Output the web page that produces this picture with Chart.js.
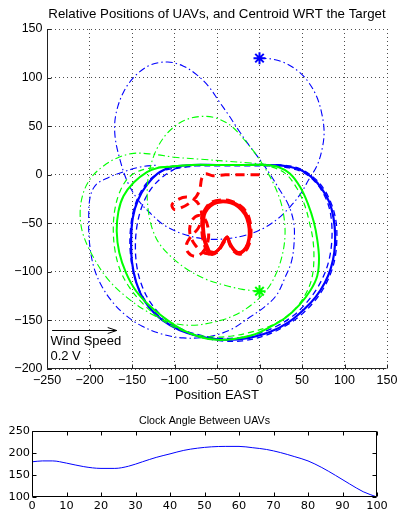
<!DOCTYPE html>
<html>
<head>
<meta charset="utf-8">
<script src="https://cdn.jsdelivr.net/npm/chart.js@4/dist/chart.umd.min.js"></script>
<style>
  html, body { margin: 0; padding: 0; background: #fff; }
  #wrap { position: relative; width: 402px; height: 515px; overflow: hidden; }
  canvas { position: absolute; left: 0; }
  #main { top: 0; }
  #clock { top: 405px; }
</style>
</head>
<body>
<div id="wrap">
  <canvas id="main" width="402" height="405"></canvas>
  <canvas id="clock" width="402" height="110"></canvas>
</div>
<script>
// ---------- tick labels ----------
const eastTicks = [-250, -200, -150, -100, -50, 0, 50, 100, 150];
const northTicks = [-200, -150, -100, -50, 0, 50, 100, 150];
const clockTimeTicks = [0, 10, 20, 30, 40, 50, 60, 70, 80, 90, 100];
const clockAngleTicks = [100, 150, 200, 250];

// ---------- UAV 1 (blue) ----------
// transit from the start point into the loiter orbit
const blueApproachX = [0, 15, 30, 45, 57, 67, 73, 76, 74, 68, 58, 48, 36, 22, 5, -15, -40, -65, -90, -112, -128, -142, -155, -164, -170, -169, -160, -146, -128, -108, -90, -74, -60, -48, -36, -24, -12, 0, 12, 24, 34, 40, 41, 38, 30, 20, 6, -12, -35, -62, -90, -115, -138, -157, -173, -186, -195, -200, -201, -199, -192, -178, -160, -140, -120];
const blueApproachY = [120, 119, 115, 107, 96, 81, 64, 45, 28, 10, -5, -20, -33, -45, -55, -62, -66, -66, -61, -52, -40, -27, -8, 15, 40, 62, 85, 102, 113, 116, 112, 103, 91, 76, 61, 45, 30, 16, 1, -16, -31, -48, -65, -88, -106, -124, -136, -147, -160, -167, -168, -164, -156, -145, -131, -114, -95, -70, -45, -22, -10, -3, 3, 8, 10];
// settling laps
const blueLapAX = [-110, -85, -55, -25, 5, 28, 48, 64, 76, 85, 90, 91, 89, 84, 76, 64, 48, 28, 5, -20, -45, -70, -92, -112, -128, -140, -148, -152, -152, -148, -140, -128, -112];
const blueLapAY = [5, 9, 10, 10, 10, 10, 6, -3, -15, -31, -48, -66, -85, -101, -116, -131, -145, -157, -166, -171, -171, -167, -160, -150, -137, -121, -102, -80, -58, -36, -18, -4, 5];
const blueLapBX = [-100, -75, -45, -15, 15, 35, 52, 65, 75, 82, 85, 85, 82, 76, 67, 55, 40, 20, -3, -28, -52, -75, -96, -114, -128, -138, -144, -146, -144, -138, -128, -115, -100];
const blueLapBY = [6, 9, 9, 9, 9, 7, 2, -7, -19, -34, -51, -69, -87, -103, -118, -132, -145, -156, -164, -168, -168, -164, -157, -146, -132, -115, -96, -74, -52, -32, -15, -3, 6];
// steady orbit
const blueOrbitX = [-105, -80, -50, -20, 10, 30, 48, 62, 73, 82, 87, 89, 88, 84, 77, 66, 52, 34, 12, -12, -38, -62, -85, -105, -122, -136, -145, -150, -151, -149, -143, -133, -120, -105];
const blueOrbitY = [8, 10, 10, 10, 10, 9, 5, -3, -14, -28, -44, -62, -80, -96, -111, -126, -139, -152, -162, -168, -170, -168, -163, -155, -144, -129, -111, -90, -66, -44, -26, -11, 1, 8];

// ---------- UAV 2 (green) ----------
const greenApproachX = [0, -20, -40, -62, -84, -102, -117, -126, -131, -132, -129, -120, -106, -88, -68, -50, -33, -18, -5, 7, 17, 25, 29, 30, 27, 20, 9, -8, -30, -55, -80, -105, -130, -155, -178, -196, -208, -211, -207, -198, -185, -168, -148, -125, -100, -70, -40, -10, 15];
const greenApproachY = [-120, -118, -114, -108, -98, -86, -72, -56, -36, -14, 6, 28, 45, 56, 60, 58, 50, 36, 22, 6, -10, -28, -45, -63, -82, -101, -118, -133, -145, -152, -155, -152, -142, -127, -108, -84, -60, -38, -18, -3, 8, 17, 22, 21, 18, 16, 14, 12, 10];
const greenLapX = [-115, -85, -55, -25, 0, 18, 32, 44, 53, 59, 63, 64, 62, 56, 45, 30, 12, -10, -32, -55, -78, -100, -120, -138, -153, -164, -170, -172, -170, -164, -154, -138, -115];
const greenLapY = [8, 10, 10, 10, 10, 7, 0, -14, -31, -50, -68, -87, -105, -120, -135, -147, -156, -162, -166, -167, -164, -157, -146, -132, -116, -98, -78, -56, -35, -17, -3, 5, 8];
const greenOrbitX = [-110, -80, -50, -20, 5, 22, 36, 48, 57, 64, 68, 70, 68, 60, 47, 31, 12, -8, -30, -50, -70, -90, -108, -128, -145, -157, -165, -168, -166, -160, -148, -132, -120, -110];
const greenOrbitY = [8, 10, 10, 10, 10, 8, 1, -13, -30, -49, -67, -86, -104, -119, -134, -147, -157, -165, -169, -170, -167, -160, -150, -136, -120, -101, -80, -58, -38, -22, -8, 3, 7, 8];

// ---------- centroid (red) ----------
const centroidStartX = [0, -20, -40, -55, -64, -68, -70, -74, -82, -92, -100, -103, -97, -86, -76, -70, -68, -72, -80, -86, -84, -76, -67, -61, -60, -64, -72, -80, -82, -76, -66, -58];
const centroidStartY = [0, 0, 0, -1, 1, -4, -14, -22, -29, -34, -36, -31, -26, -23, -26, -33, -44, -55, -63, -72, -80, -84, -80, -70, -58, -46, -42, -48, -60, -72, -80, -82];
const centroidLoopAX = [-60, -65, -67, -66, -62, -55, -45, -34, -24, -16, -12, -11, -13, -18, -24, -30, -35, -38, -42, -48, -54, -60];
const centroidLoopAY = [-80, -68, -54, -42, -34, -29, -27, -28, -32, -40, -50, -60, -70, -78, -81, -78, -71, -64, -69, -77, -81, -80];
const centroidLoopBX = [-59, -64, -66, -65, -61, -54, -45, -34, -25, -17, -13, -12, -14, -19, -25, -30, -35, -38, -42, -47, -53, -59];
const centroidLoopBY = [-79, -67, -54, -42, -35, -30, -28, -29, -33, -41, -51, -61, -71, -78, -80, -77, -70, -64, -68, -76, -80, -79];
const centroidLoopCX = [-61, -66, -68, -67, -63, -56, -45, -34, -24, -15, -11, -10, -12, -17, -24, -30, -35, -38, -42, -48, -55, -61];
const centroidLoopCY = [-81, -69, -55, -42, -34, -28, -26, -27, -31, -39, -49, -60, -71, -79, -82, -79, -72, -65, -70, -78, -82, -81];

// ---------- clock angle between the UAVs ----------
const clockTime = [0, 3, 6, 10, 15, 20, 24, 28, 32, 36, 40, 44, 48, 52, 56, 60, 64, 68, 72, 76, 80, 84, 88, 92, 96, 100];
const clockAngle = [180, 182, 182, 177, 169, 165, 165, 170, 180, 190, 198, 206, 211, 214, 215, 215, 212, 208, 201, 192, 182, 167, 149, 130, 112, 100];

// wind note placed in plot units
const windNote = { from: -244, to: -168, at: -160, textX: -246, lines: ['Wind Speed', '0.2 V'], lineY: [-172, -187] };

const SANS = '"Liberation Sans", Arial, Helvetica, sans-serif';
const BLUE = '#0000ff', GREEN = '#00ff00', RED = '#ff0000';
const DASH_DOT = [7, 3, 1.5, 3];
const DASHED = [6, 4];

function pts(xs, ys) { return xs.map((x, i) => ({ x: x, y: ys[i] })); }
function path(xs, ys, color, width, dash) {
  return {
    data: pts(xs, ys), showLine: true, borderColor: color, backgroundColor: color,
    borderWidth: width, borderDash: dash, pointRadius: 0, tension: 0.35, fill: false,
    borderCapStyle: 'butt', borderJoinStyle: 'round'
  };
}
function startMark(xs, ys, color) {
  return {
    data: [{ x: xs[0], y: ys[0] }], showLine: false, pointStyle: 'star',
    pointRadius: 6, borderColor: color, backgroundColor: color, pointBorderWidth: 2
  };
}
const minus = v => (v < 0 ? '\u2212' + Math.abs(v) : String(v));

// axes title centred over the plot area
const axesTitle = {
  id: 'axesTitle',
  afterDraw(chart, args, o) {
    const { ctx, chartArea: a } = chart;
    ctx.save();
    ctx.fillStyle = '#000';
    ctx.font = o.size + 'px ' + SANS;
    ctx.textAlign = 'center';
    ctx.textBaseline = 'middle';
    ctx.fillText(o.text, (a.left + a.right) / 2, o.y);
    ctx.restore();
  }
};

// inward tick marks and axis lines
const matlabAxes = {
  id: 'matlabAxes',
  afterDraw(chart, args, o) {
    const { ctx, chartArea: a, scales: { x, y } } = chart;
    const l = Math.round(a.left) + 0.5, r = Math.round(a.right) - 0.5;
    const t = Math.round(a.top) + 0.5, b = Math.round(a.bottom) - 0.5;
    ctx.save();
    ctx.strokeStyle = o.color;
    ctx.lineWidth = 1;
    ctx.setLineDash([]);
    ctx.beginPath();
    if (o.box) { ctx.rect(l, t, r - l, b - t); }
    else { ctx.moveTo(l, t); ctx.lineTo(l, b); ctx.lineTo(r, b); }
    x.ticks.forEach(tk => {
      const px = Math.round(x.getPixelForValue(tk.value)) + 0.5;
      ctx.moveTo(px, b); ctx.lineTo(px, b - o.len);
      if (o.box) { ctx.moveTo(px, t); ctx.lineTo(px, t + o.len); }
    });
    y.ticks.forEach(tk => {
      const py = Math.round(y.getPixelForValue(tk.value)) + 0.5;
      ctx.moveTo(l, py); ctx.lineTo(l + o.len, py);
      if (o.box) { ctx.moveTo(r, py); ctx.lineTo(r - o.len, py); }
    });
    ctx.stroke();
    ctx.restore();
  }
};

// wind arrow with its caption
const windArrow = {
  id: 'windArrow',
  afterDatasetsDraw(chart) {
    const { ctx, scales: { x, y } } = chart;
    const x0 = x.getPixelForValue(windNote.from), x1 = x.getPixelForValue(windNote.to);
    const yy = Math.round(y.getPixelForValue(windNote.at)) + 0.5;
    ctx.save();
    ctx.strokeStyle = '#000';
    ctx.lineWidth = 1;
    ctx.beginPath();
    ctx.moveTo(x0, yy); ctx.lineTo(x1, yy);
    ctx.moveTo(x1 - 9, yy - 3); ctx.lineTo(x1, yy); ctx.lineTo(x1 - 9, yy + 3);
    ctx.stroke();
    ctx.fillStyle = '#000';
    ctx.font = '13px ' + SANS;
    ctx.textAlign = 'left';
    ctx.textBaseline = 'middle';
    windNote.lines.forEach((s, i) => ctx.fillText(s, x.getPixelForValue(windNote.textX), y.getPixelForValue(windNote.lineY[i])));
    ctx.restore();
  }
};

new Chart(document.getElementById('main'), {
  type: 'scatter',
  data: {
    datasets: [
      path(centroidLoopAX, centroidLoopAY, RED, 3, []),
      path(centroidLoopBX, centroidLoopBY, RED, 3, []),
      path(centroidLoopCX, centroidLoopCY, RED, 3, [9, 5]),
      path(centroidStartX, centroidStartY, RED, 3, [9, 6]),
      startMark(greenApproachX, greenApproachY, GREEN),
      path(greenOrbitX, greenOrbitY, GREEN, 2, []),
      path(greenLapX, greenLapY, GREEN, 1.2, DASHED),
      path(greenApproachX, greenApproachY, GREEN, 1.1, DASH_DOT),
      startMark(blueApproachX, blueApproachY, BLUE),
      path(blueOrbitX, blueOrbitY, BLUE, 2.2, []),
      path(blueLapAX, blueLapAY, BLUE, 1.3, DASHED),
      path(blueLapBX, blueLapBY, BLUE, 1.3, DASHED),
      path(blueApproachX, blueApproachY, BLUE, 1.1, DASH_DOT)
    ]
  },
  options: {
    responsive: false, animation: false, events: [],
    layout: { padding: { left: 0, right: 15, top: 29, bottom: 0 } },
    plugins: {
      legend: { display: false },
      tooltip: { enabled: false },
      title: { display: false },
      axesTitle: { text: 'Relative Positions of UAVs, and Centroid WRT the Target', size: 13.3, y: 14 },
      matlabAxes: { len: 4, box: false, color: '#222' }
    },
    scales: {
      x: {
        type: 'linear', min: -250, max: 150,
        afterBuildTicks: s => { s.ticks = eastTicks.map(v => ({ value: v })); },
        afterFit: s => { s.height = 36; },
        grid: { color: 'rgba(0,0,0,0.7)', lineWidth: 1, drawTicks: false },
        border: { display: false, dash: [1, 3] },
        ticks: { color: '#000', font: { family: SANS, size: 12.5 }, padding: 4, maxRotation: 0, minRotation: 0, autoSkip: false, callback: minus },
        title: { display: true, text: 'Position EAST', color: '#000', font: { family: SANS, size: 13 }, padding: { top: 0, bottom: 1.5 } }
      },
      y: {
        type: 'linear', min: -200, max: 150,
        afterBuildTicks: s => { s.ticks = northTicks.map(v => ({ value: v })); },
        afterFit: s => { s.width = 47; },
        grid: { color: 'rgba(0,0,0,0.7)', lineWidth: 1, drawTicks: false },
        border: { display: false, dash: [1, 3] },
        ticks: { color: '#000', font: { family: SANS, size: 12.5 }, padding: 4.5, autoSkip: false, callback: minus }
      }
    }
  },
  plugins: [windArrow, matlabAxes, axesTitle]
});

new Chart(document.getElementById('clock'), {
  type: 'scatter',
  data: {
    datasets: [{
      data: pts(clockTime, clockAngle), showLine: true, borderColor: BLUE, borderWidth: 1,
      pointRadius: 0, cubicInterpolationMode: 'monotone', fill: false
    }]
  },
  options: {
    responsive: false, animation: false, events: [],
    layout: { padding: { left: 0, right: 25, top: 26, bottom: 0 } },
    plugins: {
      legend: { display: false },
      tooltip: { enabled: false },
      title: { display: false },
      axesTitle: { text: 'Clock Angle Between UAVs', size: 10.7, y: 16.5 },
      matlabAxes: { len: 4, box: true, color: '#000' }
    },
    scales: {
      x: {
        type: 'linear', min: 0, max: 100,
        afterBuildTicks: s => { s.ticks = clockTimeTicks.map(v => ({ value: v })); },
        afterFit: s => { s.height = 18; },
        grid: { display: false, drawTicks: false },
        border: { display: false },
        ticks: { color: '#000', font: { family: '"DejaVu Sans", sans-serif', size: 11.3 }, padding: 2, maxRotation: 0, minRotation: 0, autoSkip: false }
      },
      y: {
        type: 'linear', min: 100, max: 250,
        afterBuildTicks: s => { s.ticks = clockAngleTicks.map(v => ({ value: v })); },
        afterFit: s => { s.width = 32; },
        grid: { display: false, drawTicks: false },
        border: { display: false },
        ticks: { color: '#000', font: { family: '"DejaVu Sans", sans-serif', size: 11.3 }, padding: 2, autoSkip: false }
      }
    }
  },
  plugins: [matlabAxes, axesTitle]
});
</script>
</body>
</html>
